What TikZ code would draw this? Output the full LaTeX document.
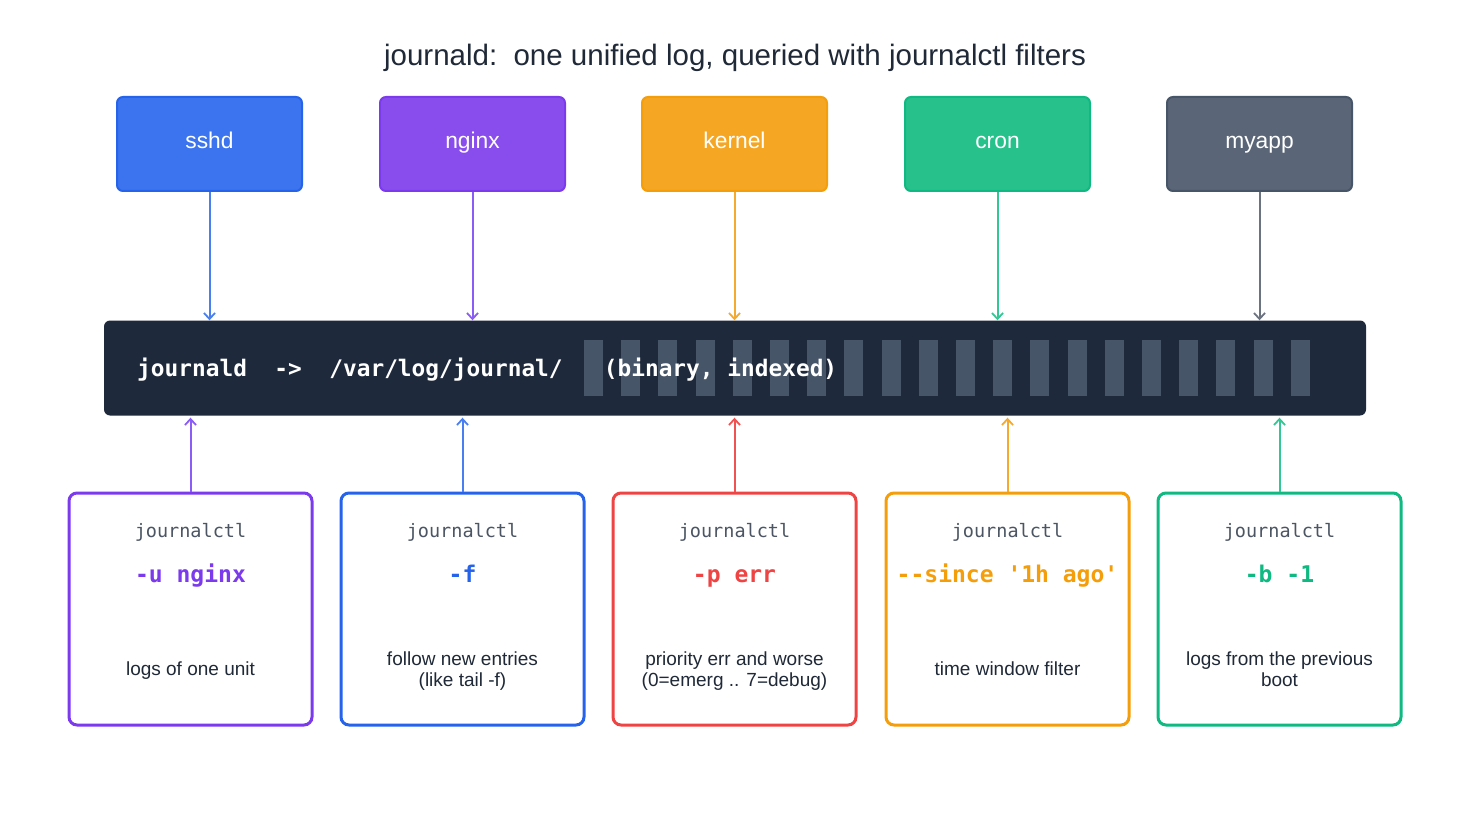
\documentclass[tikz,border=0pt]{standalone}
\usepackage{fontspec}
\setmainfont{Liberation Sans}
\setmonofont{DejaVu Sans Mono}
\usetikzlibrary{arrows.meta}
\definecolor{ink}{HTML}{1F2937}
\definecolor{barbg}{HTML}{1E293B}
\definecolor{stripec}{HTML}{475569}
\definecolor{grayt}{HTML}{4B5563}
\definecolor{cBlueF}{HTML}{3B74EE}\definecolor{cBlueD}{HTML}{2563EB}\definecolor{cBlueA}{HTML}{4A7FF0}
\definecolor{cPurF}{HTML}{8A4DED}\definecolor{cPurD}{HTML}{7C3AED}\definecolor{cPurA}{HTML}{8B5CF6}
\definecolor{cOrF}{HTML}{F5A623}\definecolor{cOrD}{HTML}{F59E0B}\definecolor{cOrA}{HTML}{F5AA2E}
\definecolor{cGrF}{HTML}{27C18C}\definecolor{cGrD}{HTML}{10B981}\definecolor{cGrA}{HTML}{34C795}
\definecolor{cSlF}{HTML}{5A6677}\definecolor{cSlD}{HTML}{475569}\definecolor{cSlA}{HTML}{6B7280}
\definecolor{cRedD}{HTML}{EF4444}\definecolor{cRedA}{HTML}{F05252}
\tikzset{
  srcbox/.style={rectangle, rounded corners=6pt, minimum width=185pt, minimum height=94pt,
    line width=2pt, inner sep=0pt},
  srclabel/.style={anchor=base, text=white, font=\fontsize{22.8}{26}\selectfont, inner sep=0pt},
  filtbox/.style={rectangle, rounded corners=8pt, minimum width=243pt, minimum height=232pt,
    line width=3pt, fill=white, inner sep=0pt},
  arr/.style={line width=2pt, -{Straight Barb[length=6pt,width=11pt,line width=1.8pt]}},
  cmdtxt/.style={anchor=base, font=\fontsize{18.5}{21}\ttfamily\selectfont, text=grayt, inner sep=0pt},
  opttxt/.style={anchor=base, font=\fontsize{23}{26}\ttfamily\bfseries\selectfont, inner sep=0pt},
  desctxt/.style={anchor=base, font=\fontsize{19}{21}\selectfont, text=ink, align=center, inner sep=0pt},
  stripe/.style={fill=stripec}
}
\begin{document}
\begin{tikzpicture}[x=1pt,y=-1pt]
\useasboundingbox[fill=white] (0,0) rectangle (1470,837);
\node[anchor=base, font=\fontsize{29.5}{34}\selectfont, text=ink, inner sep=0pt] (title) at (735,66) {journald:\ \ one unified log, queried with journalctl filters};

% sources
\node[srcbox, fill=cBlueF, draw=cBlueD] (s1) at (209.5,144) {};
\node[srcbox, fill=cPurF, draw=cPurD] (s2) at (472.5,144) {};
\node[srcbox, fill=cOrF, draw=cOrD] (s3) at (734.5,144) {};
\node[srcbox, fill=cGrF, draw=cGrD] (s4) at (997.5,144) {};
\node[srcbox, fill=cSlF, draw=cSlD] (s5) at (1259.5,144) {};
\node[srclabel] (l1) at (209.5,149) {sshd};
\node[srclabel] (l2) at (472.5,149) {nginx};
\node[srclabel] (l3) at (734.5,149) {kernel};
\node[srclabel] (l4) at (997.5,149) {cron};
\node[srclabel] (l5) at (1259.5,149) {myapp};

% journal bar
\node[rectangle, rounded corners=6pt, fill=barbg, minimum width=1262pt, minimum height=95pt, inner sep=0pt] (bar) at (735,368) {};
\foreach \i in {0,...,19} \fill[stripe] ({584+37.2*\i},340) rectangle ++(19,56);
\node[anchor=base west, text=white, font=\fontsize{22.8}{26}\ttfamily\bfseries\selectfont, inner sep=0pt] (bartext) at (137,376) {journald~~->~~/var/log/journal/~~~(binary, indexed)};

% source arrows
\draw[arr, cBlueA] (s1.south) -- (s1.south |- bar.north);
\draw[arr, cPurA] (s2.south) -- (s2.south |- bar.north);
\draw[arr, cOrA] (s3.south) -- (s3.south |- bar.north);
\draw[arr, cGrA] (s4.south) -- (s4.south |- bar.north);
\draw[arr, cSlA] (s5.south) -- (s5.south |- bar.north);

% filter boxes
\node[filtbox, draw=cPurD] (f1) at (190.5,609) {};
\node[filtbox, draw=cBlueD] (f2) at (462.5,609) {};
\node[filtbox, draw=cRedD] (f3) at (734.5,609) {};
\node[filtbox, draw=cOrD] (f4) at (1007.5,609) {};
\node[filtbox, draw=cGrD] (f5) at (1279.5,609) {};

\foreach \n/\x in {1/190.5,2/462.5,3/734.5,4/1007.5,5/1279.5}
  \node[cmdtxt] (c\n) at (\x,537) {journalctl};

\node[opttxt, text=cPurD] (o1) at (190.5,582) {-u nginx};
\node[opttxt, text=cBlueD] (o2) at (462.5,582) {-f};
\node[opttxt, text=cRedD] (o3) at (734.5,582) {-p err};
\node[opttxt, text=cOrD] (o4) at (1007.5,582) {-{}-since '1h ago'};
\node[opttxt, text=cGrD] (o5) at (1279.5,582) {-b -1};

\node[desctxt] (d1) at (190.5,675) {logs of one unit};
\node[desctxt] (d2) at (462.5,686) {follow new entries\\(like tail -f)};
\node[desctxt] (d3) at (734.5,686) {priority err and worse\\(0=emerg .. 7=debug)};
\node[desctxt] (d4) at (1007.5,675) {time window filter};
\node[desctxt] (d5) at (1279.5,686) {logs from the previous\\boot};

% filter arrows
\draw[arr, cPurA, shorten >=2pt] (f1.north) -- (f1.north |- bar.south);
\draw[arr, cBlueA, shorten >=2pt] (f2.north) -- (f2.north |- bar.south);
\draw[arr, cRedA, shorten >=2pt] (f3.north) -- (f3.north |- bar.south);
\draw[arr, cOrA, shorten >=2pt] (f4.north) -- (f4.north |- bar.south);
\draw[arr, cGrA, shorten >=2pt] (f5.north) -- (f5.north |- bar.south);
\end{tikzpicture}
\end{document}
